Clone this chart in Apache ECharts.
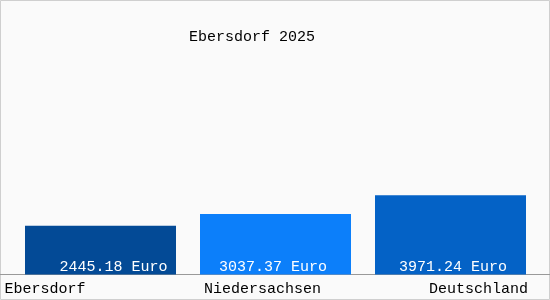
<!DOCTYPE html>
<html><head><meta charset="utf-8">
<script src="https://cdn.jsdelivr.net/npm/echarts@6/dist/echarts.min.js"></script>
<style>html,body{margin:0;padding:0;background:#fafafa}#c{width:550px;height:300px}</style>
</head><body><div id="c"></div>
<script>
var titleText = 'Ebersdorf 2025';
var categories = ['Ebersdorf', 'Niedersachsen', 'Deutschland'];
var values = [2445.18, 3037.37, 3971.24];
var unit = 'Euro';
var barColors = ['#034a96', '#0c7ffa', '#0462c6'];
var labelOffsets = [13, -2.5, 2.5];
var FONT = '"Liberation Mono", monospace';

var chart = echarts.init(document.getElementById('c'), null, {renderer: 'canvas'});
chart.setOption({
  backgroundColor: '#fafafa',
  animation: false,
  title: {
    text: titleText, left: 189, top: 30, padding: 0,
    textStyle: {fontFamily: FONT, fontSize: 15, fontWeight: 'normal', color: '#000', lineHeight: 15}
  },
  grid: {left: 13, right: 12, top: 75, bottom: 25.5},
  xAxis: {
    type: 'category', data: categories,
    axisLine: {show: false}, axisTick: {show: false},
    axisLabel: {
      margin: 7, interval: 0,
      formatter: function (v, i) { return '{s' + i + '|' + v + '}'; },
      rich: {
        s0: {width: 192, align: 'left', fontFamily: FONT, fontSize: 15, color: '#000', lineHeight: 15},
        s1: {width: 143, align: 'left', fontFamily: FONT, fontSize: 15, color: '#000', lineHeight: 15},
        s2: {width: 155, align: 'right', fontFamily: FONT, fontSize: 15, color: '#000', lineHeight: 15}
      }
    }
  },
  yAxis: {type: 'value', min: 0, max: 10000, show: false, splitLine: {show: false}},
  series: [{
    type: 'bar', barWidth: 151,
    data: values.map(function (v, i) {
      return {value: v, itemStyle: {color: barColors[i]}, label: {offset: [labelOffsets[i], 0]}};
    }),
    label: {
      show: true, position: 'insideBottom', distance: 0,
      formatter: function (p) { return p.value.toFixed(2) + ' ' + unit; },
      fontFamily: FONT, fontSize: 15, color: '#fff', lineHeight: 15
    }
  }],
  graphic: [
    {type: 'rect', shape: {x: 0.5, y: 0.5, width: 549, height: 299}, style: {fill: null, stroke: '#cfcfcf', lineWidth: 1}, silent: true},
    {type: 'line', shape: {x1: 0, y1: 274.5, x2: 550, y2: 274.5}, style: {stroke: '#999', lineWidth: 1}, silent: true}
  ]
});
</script></body></html>
